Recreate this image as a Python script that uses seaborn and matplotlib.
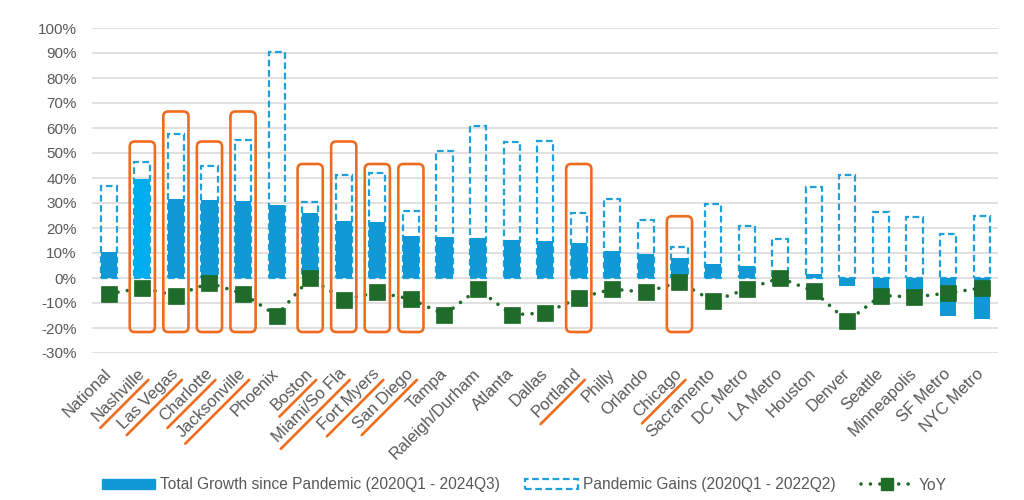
import matplotlib
matplotlib.use("Agg")
import pandas as pd
import matplotlib.pyplot as plt
import seaborn as sns
from matplotlib.patches import FancyBboxPatch, Patch
from matplotlib.lines import Line2D

sns.set_theme(style="white")
plt.rcParams["font.family"] = ["Liberation Sans", "DejaVu Sans"]

# data (percent)
cities = ["National", "Nashville", "Las Vegas", "Charlotte", "Jacksonville", "Phoenix",
          "Boston", "Miami/So Fla", "Fort Myers", "San Diego", "Tampa", "Raleigh/Durham",
          "Atlanta", "Dallas", "Portland", "Philly", "Orlando", "Chicago", "Sacramento",
          "DC Metro", "LA Metro", "Houston", "Denver", "Seattle", "Minneapolis",
          "SF Metro", "NYC Metro"]
total_growth = [10.3, 39.7, 31.7, 31.3, 30.7, 29.3, 26.0, 22.7, 22.3, 16.7, 16.3, 16.0,
                15.3, 14.7, 14.0, 11.0, 9.6, 8.0, 5.7, 4.9, 1.0, 1.6, -3.1, -5.0, -6.0,
                -15.0, -16.3]
pandemic_gains = [36.7, 46.4, 57.7, 45.0, 55.3, 90.3, 30.3, 41.3, 42.0, 27.0, 51.0, 60.7,
                  54.4, 55.0, 26.0, 31.6, 23.3, 12.3, 29.6, 21.0, 15.6, 36.4, 41.3, 26.3,
                  24.4, 17.7, 24.7]
yoy = [-6.3, -4.0, -7.0, -2.0, -6.3, -15.0, 0.0, -8.7, -5.7, -8.4, -14.7, -4.4, -14.7,
       -14.0, -8.0, -4.4, -5.7, -1.6, -9.3, -4.4, 0.0, -5.3, -17.3, -7.0, -7.6, -6.0, -4.0]

# highlighted markets: top of the orange box (percent)
highlight = {"Nashville": 54.6, "Las Vegas": 66.6, "Charlotte": 54.6, "Jacksonville": 66.6,
             "Boston": 45.6, "Miami/So Fla": 54.6, "Fort Myers": 45.6, "San Diego": 45.6,
             "Portland": 45.6, "Chicago": 24.7}
box_bottom = -21.6

BLUE = "#1199d5"
BRIGHT = "#00aeef"
DASH = "#1ea0da"
GREEN = "#1f6b2a"
ORANGE = "#ef6c1f"
GREY = "#595959"

df = pd.DataFrame({"city": cities, "total": total_growth,
                   "gains": pandemic_gains, "yoy": yoy})

fig, ax = plt.subplots(figsize=(10.24, 5.0), dpi=100)
fig.subplots_adjust(left=0.0898, right=0.975, top=0.944, bottom=0.294)

# total growth: solid bars
sns.barplot(data=df, x="city", y="total", order=cities, color=BLUE, saturation=1,
            width=0.48, errorbar=None, ax=ax)
for p, c in zip(ax.patches, cities):
    p.set_facecolor(BRIGHT if c == "Nashville" else BLUE)
    p.set_edgecolor("none")
    p.set_linewidth(0)
    p.set_zorder(3)
n_solid = len(ax.patches)

# pandemic gains: dashed outline only, underneath
sns.barplot(data=df, x="city", y="gains", order=cities, color=DASH, saturation=1,
            width=0.48, errorbar=None, ax=ax)
for p in ax.patches[n_solid:]:
    p.set_facecolor("none")
    p.set_edgecolor(DASH)
    p.set_linewidth(1.6)
    p.set_linestyle((0, (3, 1.6)))
    p.set_zorder(2)

sns.pointplot(data=df, x="city", y="yoy", order=cities, color=GREEN, marker="s",
              markersize=9.5, markeredgecolor=GREEN, linestyle=(0, (0.01, 2.6)),
              linewidth=2.6, dash_capstyle="round", errorbar=None, ax=ax, zorder=5)

# orange boxes around highlighted markets
for i, c in enumerate(cities):
    if c in highlight:
        top = highlight[c]
        ax.add_patch(FancyBboxPatch((i - 0.375, box_bottom), 0.75, top - box_bottom,
                                    boxstyle="round,pad=0,rounding_size=0.15",
                                    mutation_aspect=13.4, fill=False, ec=ORANGE,
                                    lw=1.9, zorder=6, clip_on=False))

ax.set_xlim(-0.5, len(cities) - 0.5)
ax.set_ylim(-30, 100)
ax.set_yticks(range(-30, 101, 10))
ax.set_yticklabels([f"{v}%" for v in range(-30, 101, 10)])
ax.yaxis.grid(True, color="#d9d9d9", lw=1.1)
ax.set_axisbelow(True)
for s in ax.spines.values():
    s.set_visible(False)
ax.set_xlabel("")
ax.set_ylabel("")
ax.tick_params(axis="y", length=0, pad=11, labelsize=11, labelcolor=GREY)
ax.tick_params(axis="x", length=0, pad=13, labelsize=12, labelcolor=GREY)
ax.set_xticks(range(len(cities)))
ax.set_xticklabels(cities, rotation=45, ha="right", va="center", rotation_mode="anchor")

handles = [Patch(facecolor=BLUE, edgecolor=BLUE),
           Patch(facecolor="none", edgecolor=DASH, linestyle=(0, (3, 1.6)), lw=1.6),
           Line2D([], [], color=GREEN, marker="s", markersize=8, linestyle=(0, (0.01, 2.6)),
                  lw=2.6, dash_capstyle="round")]
labels = ["Total Growth since Pandemic (2020Q1 - 2024Q3)",
          "Pandemic Gains (2020Q1 - 2022Q2)", "YoY"]
fig.legend(handles, labels, loc="center", bbox_to_anchor=(0.512, 0.03), ncol=3,
           frameon=False, fontsize=11.2, handlelength=3.4, handleheight=0.6,
           handletextpad=0.35, columnspacing=1.6, labelcolor=GREY)

# orange underline under highlighted tick labels
fig.canvas.draw()
renderer = fig.canvas.get_renderer()
inv = fig.transFigure.inverted()
r = 0.7071
for lab in ax.get_xticklabels():
    if lab.get_text() not in highlight:
        continue
    bb = lab.get_window_extent(renderer)
    w, h, d = renderer.get_text_width_height_descent(lab.get_text(), lab.get_fontproperties(), ismath=False)
    hb = bb.width / r - w
    px, py = bb.x1, bb.y1 - r * hb
    off, ext_top, ext_bot = 3, -2, 2
    x0, y0 = px + r * off + r * ext_top, py - r * off + r * ext_top
    x1, y1 = px + r * off - r * (w + ext_bot), py - r * off - r * (w + ext_bot)
    (fx0, fy0), (fx1, fy1) = inv.transform([(x0, y0), (x1, y1)])
    fig.add_artist(Line2D([fx0, fx1], [fy0, fy1], transform=fig.transFigure,
                          color=ORANGE, lw=1.9))

fig.savefig("out.png", dpi=100)
